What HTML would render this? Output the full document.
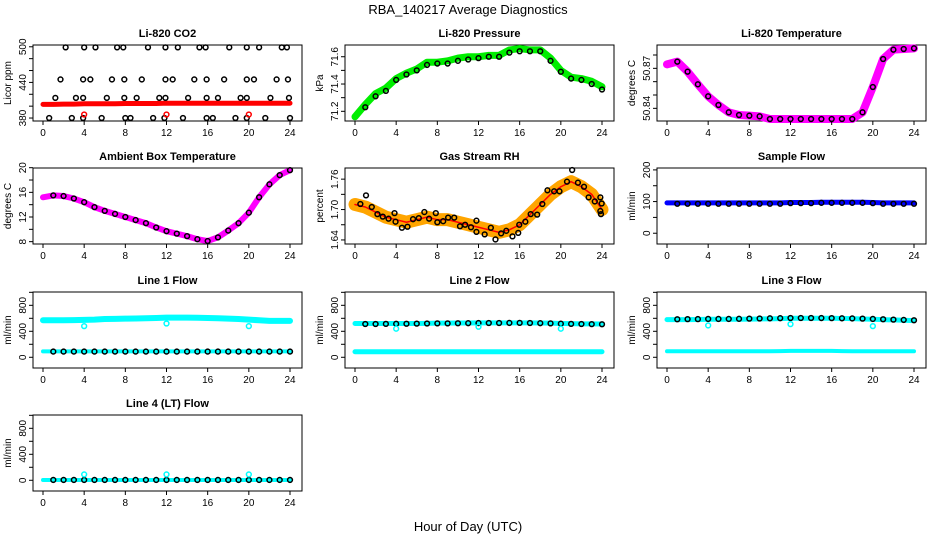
<!DOCTYPE html>
<html><head><meta charset="utf-8"><style>
html,body{margin:0;padding:0;background:#fff;}
svg{display:block;font-family:"Liberation Sans",sans-serif;}
</style></head><body>
<svg id="chart" width="936" height="540" viewBox="0 0 936 540" xmlns="http://www.w3.org/2000/svg">
<text x="468" y="14" text-anchor="middle" font-size="13">RBA_140217  Average Diagnostics</text>
<text x="468" y="531" text-anchor="middle" font-size="13">Hour of Day (UTC)</text>
</svg>
<script>
// ---------- data ----------
const hours = [0,1,2,3,4,5,6,7,8,9,10,11,12,13,14,15,16,17,18,19,20,21,22,23,24];
const xTicks = [0,4,8,12,16,20,24];
// CO2
const co2Red = [403,403,403.5,403.5,404,404,404,404,404.5,404.5,404.5,404.5,405,405,405,405,405,405,405,405,405,405,405,405,405];
const co2RedOutHours = [4,12,20];
const co2RedOutVals = [386,386,386];
const co2BlkHours = [2.2,4.0,5.1,7.2,7.8,10.2,11.9,13.1,15.2,15.8,18.1,19.8,21.0,23.2,23.7,
 1.7,3.9,4.6,6.7,7.9,9.6,11.9,12.6,14.7,15.9,17.6,19.8,20.5,22.7,23.8,
 1.2,3.2,3.9,6.2,7.9,9.1,11.3,11.9,14.1,15.9,17.0,19.2,19.8,22.1,23.9,
 0.6,2.8,3.9,5.7,8.0,8.5,10.7,11.8,13.6,15.9,16.5,18.7,19.8,21.6,24.0];
const co2BlkVals = [499,499,499,499,499,499,499,499,499,499,499,499,499,499,499,
 445,445,445,445,445,445,445,445,445,445,445,445,445,445,445,
 414,414,414,414,414,414,414,414,414,414,414,414,414,414,414,
 380,380,380,380,380,380,380,380,380,380,380,380,380,380,380];
// Pressure
const presVals = [71.16,71.25,71.33,71.37,71.44,71.48,71.51,71.56,71.56,71.57,71.59,71.60,71.60,71.61,71.61,71.65,71.66,71.65,71.65,71.59,71.50,71.45,71.44,71.42,71.38];
const presBlk = [71.15,71.23,71.31,71.35,71.43,71.47,71.50,71.54,71.55,71.55,71.57,71.58,71.59,71.60,71.60,71.63,71.64,71.64,71.64,71.57,71.49,71.44,71.43,71.40,71.36];
// Li-820 temperature
const ltempVals = [50.873,50.875,50.8675,50.858,50.849,50.8425,50.837,50.835,50.8345,50.834,50.832,50.832,50.832,50.832,50.832,50.832,50.832,50.832,50.832,50.837,50.856,50.877,50.884,50.8845,50.885];
// Ambient box temperature
const ambVals = [15.2,15.5,15.4,15.0,14.4,13.6,13.0,12.5,12.0,11.5,11.0,10.3,9.7,9.3,8.9,8.4,8.1,8.7,9.8,11.0,12.7,15.2,17.3,18.8,19.6];
// Gas stream RH
const rhTrend = [1.71,1.705,1.695,1.685,1.68,1.675,1.68,1.685,1.68,1.68,1.675,1.67,1.665,1.66,1.655,1.66,1.67,1.69,1.71,1.73,1.745,1.755,1.745,1.73,1.70];
const rhBlkHours = [0.52,1.07,1.63,2.18,2.7,3.26,3.84,3.94,4.56,5.1,5.64,6.2,6.74,7.2,7.85,8.0,8.57,9.05,9.64,10.2,10.7,11.27,11.8,11.8,12.6,13.2,13.65,14.2,14.7,15.3,15.86,15.96,16.55,17.07,17.7,18.2,18.7,19.35,19.87,20.6,21.1,21.66,22.25,22.7,23.3,23.84,23.97,23.84,23.9];
const rhBlkVals = [1.711,1.728,1.705,1.691,1.686,1.682,1.693,1.676,1.664,1.666,1.681,1.683,1.695,1.682,1.693,1.675,1.677,1.684,1.684,1.667,1.670,1.665,1.678,1.656,1.651,1.664,1.641,1.653,1.658,1.647,1.654,1.670,1.676,1.691,1.690,1.711,1.738,1.736,1.736,1.755,1.778,1.753,1.745,1.724,1.716,1.724,1.712,1.697,1.691];
// Sample flow
const sampBlue = [96,96,96,96,96,96,96,96,96,96,96,96,97,97,97,98,98,98,98,98,97,96,96,96,96];
const sampBlk = [93,93,93,93,93,93,93,93,93,93,93,93,95,95,95,96,96,96,96,96,95,93,93,93,93];
// Line flows
const l1Cyan = [570,570,570,572,575,580,590,592,595,597,600,605,610,610,610,608,605,600,595,590,580,570,560,560,560];
const l1CyanLow = [90,90,90,90,90,90,90,90,90,90,90,90,90,90,90,90,90,90,90,90,90,90,90,90,90];
const l1Blk = [88,88,88,88,88,88,88,88,88,88,88,88,88,88,88,88,88,88,88,88,88,88,88,88,88];
const l1OutVals = [480,520,480];
const l2Cyan = [520,520,520,520,520,520,520,522,525,525,527,528,530,530,530,530,530,530,528,525,520,518,515,515,512];
const l2Blk = [512,512,512,514,515,516,518,520,522,522,524,525,527,528,528,529,530,528,525,522,517,514,512,510,508];
const l2CyanLow = [85,85,85,85,85,85,85,85,85,85,85,85,85,85,85,85,85,85,85,85,85,85,85,85,85];
const l2OutVals = [440,470,440];
const l3Cyan = [580,580,580,582,585,585,585,585,588,590,592,595,600,600,600,600,600,598,595,590,585,580,575,570,565];
const l3Blk = [585,585,587,588,590,590,590,592,595,597,600,602,605,605,605,604,603,600,598,595,590,585,580,575,570];
const l3CyanLow = [92,92,92,92,92,92,92,92,92,92,92,95,98,98,98,98,98,95,92,92,92,92,92,92,92];
const l3OutVals = [490,510,480];
const l4Cyan = [5,5,5,5,5,5,5,5,5,5,5,5,5,5,5,5,5,5,5,5,5,5,5,5,5];
const l4Blk = [5,5,5,5,5,5,5,5,5,5,5,5,5,5,5,5,5,5,5,5,5,5,5,5,5];
const l4OutVals = [90,90,90];
const outHours = [4,12,20];

// ---------- drawing ----------
const NS = "http://www.w3.org/2000/svg";
const svg = document.getElementById('chart');
const colLeft = [33,345,657], rowTop = [45,168,292,415], BW = 269, BH = 76;
function mk(tag, attrs, parent){const e=document.createElementNS(NS,tag);for(const k in attrs)e.setAttribute(k,attrs[k]);(parent||svg).appendChild(e);return e;}

function makePanel(col,row,title,ylab,ylim,yticks,ylabels,name){
  const L=colLeft[col], T=rowTop[row];
  const g=mk('g',{});
  
  
  const xs=h=>L+10+h*(247/24);
  const ys=v=>T+(ylim[1]-v)/(ylim[1]-ylim[0])*BH;
  const t=mk('text',{x:L+BW/2,y:T-8,'text-anchor':'middle','font-size':11,'font-weight':'bold'},g);
  t.textContent=title;
  
  
  const yl=mk('text',{transform:`translate(${L-22},${T+BH/2}) rotate(-90)`,'text-anchor':'middle','font-size':10},g);
  yl.textContent=ylab;
  
  
  const box=mk('rect',{x:L,y:T,width:BW,height:BH,fill:'none',stroke:'#000','stroke-width':1},g);
  
  
  const data=mk('g',{},g);
  const ax=mk('g',{},g);
  
  
  xTicks.forEach(v=>{
    mk('line',{x1:xs(v),x2:xs(v),y1:T+BH,y2:T+BH+4,stroke:'#000'},ax);
    const tl=mk('text',{x:xs(v),y:T+BH+15,'text-anchor':'middle','font-size':10},ax);
    tl.textContent=v;
  });
  yticks.forEach(v=>{
    mk('line',{x1:L-4,x2:L,y1:ys(v),y2:ys(v),stroke:'#000'},ax);
    const lab=ylabels.find(s=>Number(s)===v);
    if(lab!==undefined){
      const tl=mk('text',{transform:`translate(${L-7},${ys(v)}) rotate(-90)`,'text-anchor':'middle','font-size':10},ax);
      tl.textContent=lab;
    }
  });
  return {xs,ys,g:data};
}
function band(p,hs,vs,color,w,name){
  const pl=mk('polyline',{points:hs.map((h,i)=>p.xs(h)+','+p.ys(vs[i])).join(' '),fill:'none',stroke:color,'stroke-width':w,'stroke-linecap':'round','stroke-linejoin':'round'},p.g);
  
  
}
function pts(p,hs,vs,color,name,r){
  const g=mk('g',{},p.g);
  
  
  hs.forEach((h,i)=>{mk('circle',{cx:p.xs(h),cy:p.ys(vs[i]),r:r||2.4,fill:'none',stroke:color,'stroke-width':1.5},g);});
}

// Panels
let p;
p=makePanel(0,0,'Li-820 CO2','Licor ppm',[375,503],[380,400,420,440,460,480,500],['380','440','500'],'co2');
band(p,hours,co2Red,'#ff0000',5,'co2-red-band');
pts(p,co2BlkHours,co2BlkVals,'#000','co2-black-points');
pts(p,co2RedOutHours,co2RedOutVals,'#ff0000','co2-red-outliers');

p=makePanel(1,0,'Li-820 Pressure','kPa',[71.129,71.686],[71.2,71.3,71.4,71.5,71.6],['71.2','71.4','71.6'],'pressure');
band(p,hours,presVals,'#00ee00',7,'pressure-green-band');
pts(p,hours.slice(1),presBlk.slice(1),'#000','pressure-black-points');

p=makePanel(2,0,'Li-820 Temperature','degrees C',[50.8305,50.8875],[50.84,50.85,50.86,50.87,50.88],['50.84','50.87'],'li-temp');
band(p,hours,ltempVals,'#ff00ff',8,'li-temp-magenta-band');
pts(p,hours.slice(1),ltempVals.slice(1),'#000','li-temp-black-points');

p=makePanel(0,1,'Ambient Box Temperature','degrees C',[7.62,19.95],[8,10,12,14,16,18,20],['8','12','16','20'],'ambient');
band(p,hours,ambVals,'#ff00ff',6,'ambient-magenta-band');
pts(p,hours.slice(1),ambVals.slice(1),'#000','ambient-black-points');

p=makePanel(1,1,'Gas Stream RH','percent',[1.632,1.782],[1.64,1.67,1.70,1.73,1.76],['1.64','1.70','1.76'],'rh');
band(p,hours,rhTrend,'#ffa500',13,'rh-orange-cloud');
band(p,hours,rhTrend,'#ff0000',1.5,'rh-red-points');
pts(p,rhBlkHours,rhBlkVals,'#000','rh-black-points');

p=makePanel(2,1,'Sample Flow','ml/min',[-34,206],[0,50,100,150,200],['0','100','200'],'sample-flow');
band(p,hours,sampBlue,'#0000ff',5,'sample-flow-blue-band');
pts(p,hours.slice(1),sampBlk.slice(1),'#000','sample-flow-black-points');

const flowTicks=[0,200,400,600,800,1000], flowLabels=['0','400','800'];
p=makePanel(0,2,'Line 1 Flow','ml/min',[-165,1005],flowTicks,flowLabels,'line1');
band(p,hours,l1Cyan,'#00ffff',6,'line1-cyan-upper');
band(p,hours,l1CyanLow,'#00ffff',4,'line1-cyan-lower');
pts(p,hours.slice(1),l1Blk.slice(1),'#000','line1-black-points');
pts(p,outHours,l1OutVals,'#00ffff','line1-cyan-outliers');

p=makePanel(1,2,'Line 2 Flow','ml/min',[-165,1005],flowTicks,flowLabels,'line2');
band(p,hours,l2Cyan,'#00ffff',5,'line2-cyan-upper');
band(p,hours,l2CyanLow,'#00ffff',5,'line2-cyan-lower');
pts(p,hours.slice(1),l2Blk.slice(1),'#000','line2-black-points');
pts(p,outHours,l2OutVals,'#00ffff','line2-cyan-outliers');

p=makePanel(2,2,'Line 3 Flow','ml/min',[-165,1005],flowTicks,flowLabels,'line3');
band(p,hours,l3Cyan,'#00ffff',5,'line3-cyan-upper');
band(p,hours,l3CyanLow,'#00ffff',4,'line3-cyan-lower');
pts(p,hours.slice(1),l3Blk.slice(1),'#000','line3-black-points');
pts(p,outHours,l3OutVals,'#00ffff','line3-cyan-outliers');

p=makePanel(0,3,'Line 4 (LT) Flow','ml/min',[-165,1005],flowTicks,flowLabels,'line4');
band(p,hours,l4Cyan,'#00ffff',4,'line4-cyan-band');
pts(p,hours.slice(1),l4Blk.slice(1),'#000','line4-black-points');
pts(p,outHours,l4OutVals,'#00ffff','line4-cyan-outliers');
</script>
</body></html>
